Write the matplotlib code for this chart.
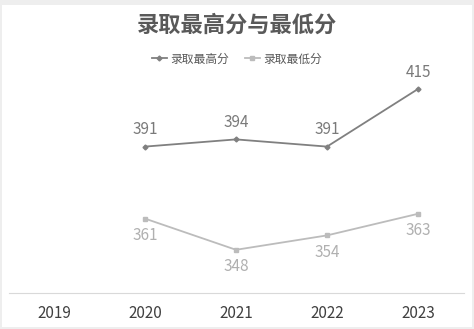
import matplotlib
matplotlib.use("Agg")
import matplotlib.pyplot as plt
from matplotlib.patches import Rectangle
from matplotlib.lines import Line2D

plt.rcParams['font.family'] = ['Noto Sans CJK SC', 'DejaVu Sans']

years = ['2019', '2020', '2021', '2022', '2023']
max_scores = [None, 391, 394, 391, 415]
min_scores = [None, 361, 348, 354, 363]
series_names = ['录取最高分', '录取最低分']
title = '录取最高分与最低分'

c_max = '#808080'
c_min = '#bcbcbc'

fig = plt.figure(figsize=(4.74, 3.29), dpi=100)
fig.patch.set_facecolor('#eeeeee')
fig.patches.append(Rectangle((2/474, 2/329), 470/474, 322/329, transform=fig.transFigure,
                             facecolor='white', edgecolor='none', zorder=-1))

ax = fig.add_axes([8.5/474, 1-293/329, 455/474, (293-77)/329])
ax.set_zorder(2)
ax.set_facecolor('none')

xs = list(range(len(years)))
px = [x for x, v in zip(xs, max_scores) if v is not None]
pmax = [v for v in max_scores if v is not None]
pmin = [v for v in min_scores if v is not None]

ax.plot(px, pmax, color=c_max, lw=1.3, marker='D', ms=2.5, zorder=3, clip_on=False)
ax.plot(px, pmin, color=c_min, lw=1.3, marker='s', ms=3.5, zorder=3, clip_on=False)

for x, v in zip(px, pmax):
    ax.annotate(str(v), (x, v), xytext=(0, 6), textcoords='offset points',
                ha='center', va='bottom', fontsize=11, color='#7a7a7a')
for x, v in zip(px, pmin):
    ax.annotate(str(v), (x, v), xytext=(0, -6), textcoords='offset points',
                ha='center', va='top', fontsize=11, color='#b0b0b0')

ax.set_xlim(-0.5, len(years) - 0.5)
ax.set_ylim(330, 420)
ax.set_xticks(xs)
ax.set_xticklabels(years, fontsize=11, color='#404040')
ax.tick_params(axis='x', length=0, pad=9)
ax.set_yticks([])
for s in ['top', 'right', 'left']:
    ax.spines[s].set_visible(False)
ax.spines['bottom'].set_color('#d9d9d9')
ax.spines['bottom'].set_linewidth(0.8)

fig.text(0.5, 1-25/329, title, ha='center', va='center', fontsize=16,
         fontweight='bold', color='#595959')

handles = [Line2D([], [], color=c_max, lw=1.3, marker='D', ms=2.5),
           Line2D([], [], color=c_min, lw=1.3, marker='s', ms=3.5)]
leg = fig.legend(handles, series_names, loc='center', bbox_to_anchor=(0.5, 1-59/329),
                 ncol=2, frameon=False, fontsize=8.5, handlelength=1.3, handletextpad=0.3,
                 columnspacing=1.3, labelcolor='#595959')
leg.set_zorder(3)

fig.savefig('out.png', dpi=100)
